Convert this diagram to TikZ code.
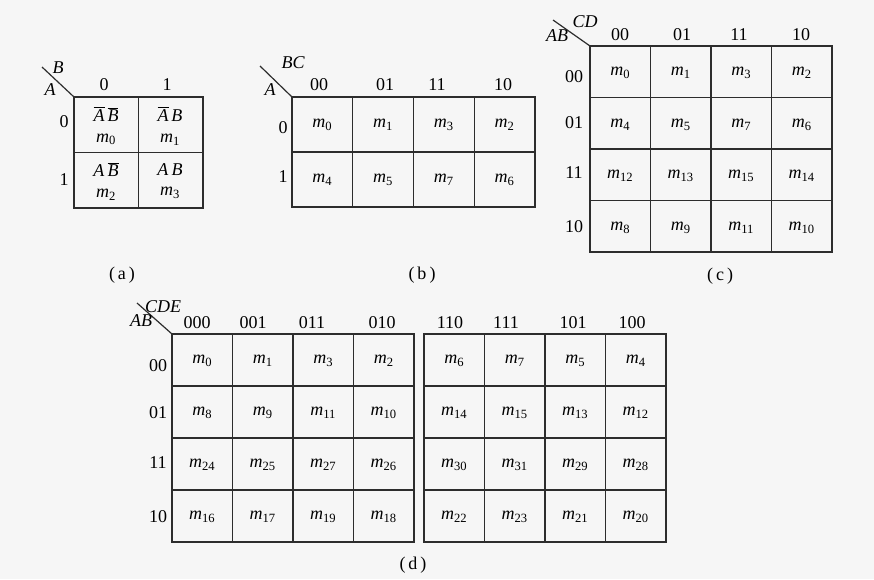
\documentclass[tikz,border=0pt]{standalone}
\usepackage{fontspec}
\setmainfont{Liberation Serif}
\newcommand{\mterm}[1]{\textit{m}\textsubscript{#1}}
\newcommand{\nbar}[1]{\ensuremath{\overline{\mbox{\itshape #1}}}}
\tikzset{
  kgrid/.style={line width=0.9pt, color={rgb,255:red,45;green,45;blue,45}},
  lbl/.style={font=\fontsize{13.5}{15}\selectfont, inner sep=1pt},
  vlbl/.style={font=\fontsize{13.5}{15}\selectfont\itshape, inner sep=1pt},
  cell/.style={font=\fontsize{13.5}{15.5}\selectfont, inner sep=1pt, align=center},
}
\begin{document}
\begin{tikzpicture}[x=0.75pt,y=0.75pt,yscale=-1,xscale=1]
\useasboundingbox [fill={rgb,255:red,246;green,246;blue,246}] (0,0) rectangle (874,579);

%%%%% (a) two variables
\draw [kgrid] (74,97) rectangle (203,208);
\draw [kgrid] (138.5,97) -- (138.5,208);
\draw [kgrid] (74,152.5) -- (203,152.5);
%Straight Lines
\draw [kgrid] (42,67) -- (74,97);
% Text Node
\draw (58,68) node [vlbl] (a-B) {B};
\draw (50,90) node [vlbl] (a-A) {A};
\draw (104,85) node [lbl] (a-c0) {0};
\draw (167,85) node [lbl] (a-c1) {1};
\draw (64,122) node [lbl] (a-r0) {0};
\draw (64,180) node [lbl] (a-r1) {1};
\draw (106,126) node [cell] (a-m0) {\nbar{A}\,\nbar{B}\\\mterm{0}};
\draw (170,126) node [cell] (a-m1) {\nbar{A}\,\textit{B}\\\mterm{1}};
\draw (106,181) node [cell] (a-m2) {\textit{A}\,\nbar{B}\\\mterm{2}};
\draw (170,181) node [cell] (a-m3) {\textit{A}\,\textit{B}\\\mterm{3}};
\draw (122,275) node [lbl] (cap-a) {(\,a\,)};

%%%%% (b) three variables
\draw [kgrid] (292,97) rectangle (535,207);
\foreach \c in {1,2,3} \draw [kgrid] (292+60.75*\c,97) -- (292+60.75*\c,207);
\draw [kgrid] (292,152) -- (535,152);
%Straight Lines
\draw [kgrid] (260,66) -- (292,97);
% Text Node
\draw (293,63) node [vlbl] (b-BC) {BC};
\draw (270,90) node [vlbl] (b-A) {A};
\foreach \t/\x in {00/319,01/385,11/437,10/503}
  \draw (\x,85) node [lbl] (b-c\t) {\t};
\draw (283,128) node [lbl] (b-r0) {0};
\draw (283,177) node [lbl] (b-r1) {1};
\foreach \gc [count=\c from 0] in {0,1,3,2}
  \foreach \gr [count=\r from 0] in {0,1} {
    \pgfmathtruncatemacro\idx{4*\gr+\gc}
    \draw (292+60.75*\c+30.4,97+55*\r+28) node [cell] (b-m\idx) {\mterm{\idx}};
  }
\draw (422,275) node [lbl] (cap-b) {(\,b\,)};

%%%%% (c) four variables
\draw [kgrid] (590,46) rectangle (832,252);
\foreach \c in {1,2,3} \draw [kgrid] (590+60.5*\c,46) -- (590+60.5*\c,252);
\foreach \r in {1,2,3} \draw [kgrid] (590,46+51.5*\r) -- (832,46+51.5*\r);
%Straight Lines
\draw [kgrid] (553,20) -- (590,46);
% Text Node
\draw (585,22) node [vlbl] (c-CD) {CD};
\draw (557,36) node [vlbl] (c-AB) {AB};
\foreach \t/\x in {00/620,01/682,11/739,10/801}
  \draw (\x,35) node [lbl] (c-c\t) {\t};
\foreach \t/\y in {00/77,01/123,11/173,10/227}
  \draw (574,\y) node [lbl] (c-r\t) {\t};
\foreach \gc [count=\c from 0] in {0,1,3,2}
  \foreach \gr [count=\r from 0] in {0,1,3,2} {
    \pgfmathtruncatemacro\idx{4*\gr+\gc}
    \draw (590+60.5*\c+30.25,46+51.5*\r+27) node [cell] (c-m\idx) {\mterm{\idx}};
  }
\draw (720,276) node [lbl] (cap-c) {(\,c\,)};

%%%%% (d) five variables
\draw [kgrid] (172,334) rectangle (414,542);
\draw [kgrid] (424,334) rectangle (666,542);
\foreach \c in {1,2,3} {
  \draw [kgrid] (172+60.5*\c,334) -- (172+60.5*\c,542);
  \draw [kgrid] (424+60.5*\c,334) -- (424+60.5*\c,542);
}
\foreach \r in {1,2,3} {
  \draw [kgrid] (172,334+52*\r) -- (414,334+52*\r);
  \draw [kgrid] (424,334+52*\r) -- (666,334+52*\r);
}
%Straight Lines
\draw [kgrid] (137,303) -- (172,334);
% Text Node
\draw (163,307) node [vlbl] (d-CDE) {CDE};
\draw (141,321) node [vlbl] (d-AB) {AB};
\foreach \t/\x in {000/197,001/253,011/312,010/382,110/450,111/506,101/573,100/632}
  \draw (\x,323) node [lbl] (d-c\t) {\t};
\foreach \t/\y in {00/366,01/413,11/463,10/517}
  \draw (158,\y) node [lbl] (d-r\t) {\t};
\foreach \gc [count=\c from 0] in {0,1,3,2,6,7,5,4}
  \foreach \gr [count=\r from 0] in {0,1,3,2} {
    \pgfmathtruncatemacro\idx{8*\gr+\gc}
    \pgfmathsetmacro\xo{\c<4 ? 172+60.5*\c : 424+60.5*(\c-4)}
    \draw (\xo+30.25,334+52*\r+27) node [cell] (d-m\idx) {\mterm{\idx}};
  }
\draw (413,565) node [lbl] (cap-d) {(\,d\,)};

\end{tikzpicture}
\end{document}
